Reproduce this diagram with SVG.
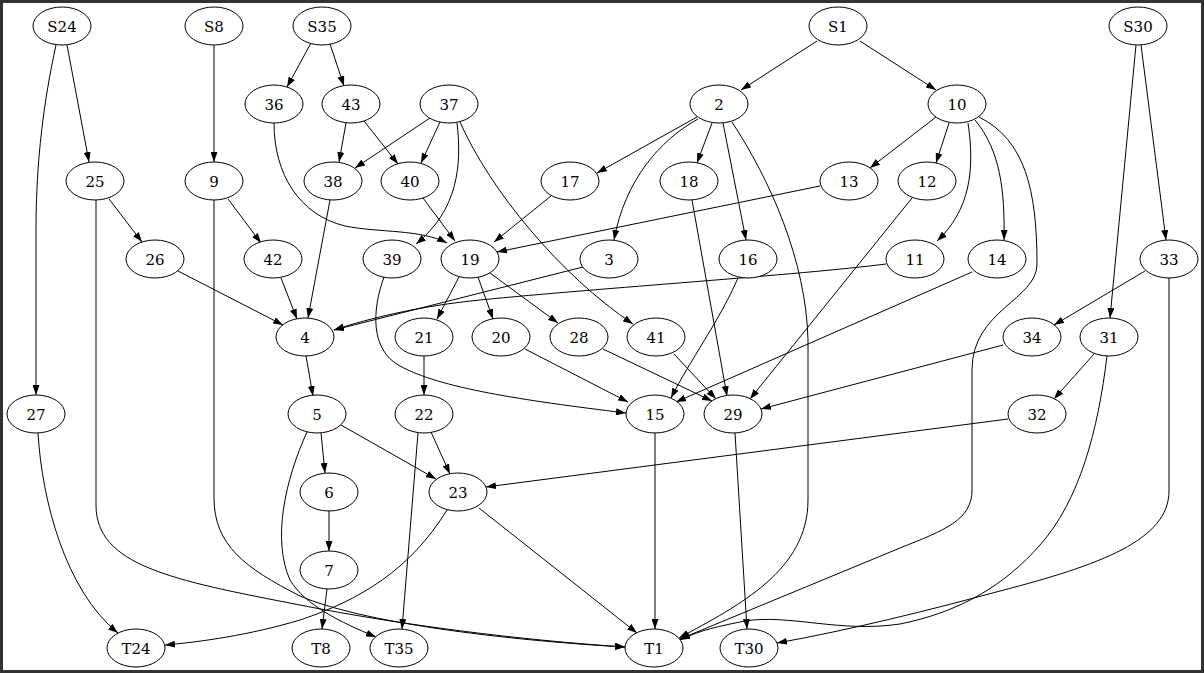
<svg xmlns="http://www.w3.org/2000/svg" width="1204" height="673" viewBox="0 0 1204 673">
<style>
.n ellipse{fill:#fff;stroke:#000;stroke-width:1}
.n text{font-family:"DejaVu Serif","Liberation Serif",serif;font-size:15px;text-anchor:middle;fill:#000}
#edges path{fill:none;stroke:#000;stroke-width:1;marker-end:url(#ah)}
</style>
<defs>
<marker id="ah" markerUnits="userSpaceOnUse" markerWidth="10" markerHeight="7" refX="10" refY="3.5" orient="auto">
<path d="M0,0 L10,3.5 L0,7 z" fill="#000"/>
</marker>
</defs>
<rect x="1.5" y="1.5" width="1201" height="670" fill="#fff" stroke="#333" stroke-width="3"/>
<g id="edges">
<path d="M67,45 L89,162"/>
<path d="M56,45 C44,100 36,160 36,230 L36,395"/>
<path d="M214,45 L214,162"/>
<path d="M311,43 L287,87"/>
<path d="M330,44 L344,86"/>
<path d="M817,41 L741,90"/>
<path d="M860,41 L936,90"/>
<path d="M1136,45 L1110,318"/>
<path d="M1141,45 L1166,240"/>
<path d="M274,123 C274,175 300,215 345,226 C380,233 420,229 447,243"/>
<path d="M346,123 L339,162"/>
<path d="M364,121 L398,164"/>
<path d="M430,118 L355,168"/>
<path d="M440,122 L421,163"/>
<path d="M457,123 C462,165 458,210 416,244"/>
<path d="M460,122 C490,190 560,275 633,324"/>
<path d="M697,117 L597,173"/>
<path d="M712,123 L697,163"/>
<path d="M698,119 C660,140 625,180 614,240"/>
<path d="M723,123 L746,240"/>
<path d="M732,122 C770,180 806,260 808,340 L808,500 C808,570 740,605 679,638"/>
<path d="M936,117 L870,168"/>
<path d="M949,123 L936,163"/>
<path d="M968,123 C975,170 970,210 937,241"/>
<path d="M975,120 C1000,150 1005,190 1004,240"/>
<path d="M979,117 C1025,140 1037,190 1037,264 C1037,300 972,310 972,370 L972,490 C972,520 945,530 900,548 L680,639"/>
<path d="M109,199 L142,242"/>
<path d="M96,200 L96,505 C96,565 170,580 300,605 C400,625 520,640 625,647"/>
<path d="M214,200 L214,498 C214,545 245,568 300,596 C360,622 500,640 625,647"/>
<path d="M228,199 L261,243"/>
<path d="M178,271 L283,325"/>
<path d="M281,278 L297,319"/>
<path d="M330,200 L308,318"/>
<path d="M423,198 L455,241"/>
<path d="M551,196 L494,242"/>
<path d="M820,186 L497,252"/>
<path d="M384,277 C372,310 370,350 400,366 C440,388 520,400 626,413"/>
<path d="M459,277 L437,319"/>
<path d="M478,277 L493,319"/>
<path d="M490,273 L558,323"/>
<path d="M583,267 L334,330"/>
<path d="M886,264 C800,275 600,288 480,300 C420,306 370,318 334,330"/>
<path d="M306,356 L313,396"/>
<path d="M424,356 L424,395"/>
<path d="M525,349 L628,402"/>
<path d="M603,349 L712,401"/>
<path d="M674,354 L716,399"/>
<path d="M738,278 C720,320 690,360 671,398"/>
<path d="M972,272 L676,402"/>
<path d="M912,198 L750,399"/>
<path d="M692,200 L727,396"/>
<path d="M1003,345 L761,409"/>
<path d="M1145,271 L1054,325"/>
<path d="M1094,354 L1054,399"/>
<path d="M1008,419 L486,487"/>
<path d="M1169,278 L1169,491 C1169,540 1100,565 1000,591 C930,610 850,630 777,643"/>
<path d="M1107,356 C1098,430 1080,500 1040,545 C1005,585 960,612 900,624 C840,633 790,614 745,621 C720,626 700,630 680,640"/>
<path d="M321,433 L325,473"/>
<path d="M341,425 L436,479"/>
<path d="M307,432 C285,480 272,540 290,580 C305,605 340,622 376,637"/>
<path d="M431,432 L450,474"/>
<path d="M418,433 L402,629"/>
<path d="M447,510 C410,570 360,600 300,620 C250,635 200,642 165,645"/>
<path d="M479,508 L637,633"/>
<path d="M329,511 L329,551"/>
<path d="M327,589 L322,629"/>
<path d="M655,433 L655,629"/>
<path d="M735,433 L747,629"/>
<path d="M38,433 C42,500 65,590 118,633"/>
</g>
<g id="S24" class="n"><ellipse cx="62" cy="26" rx="29" ry="19"/><text x="62" y="31.5">S24</text></g>
<g id="S8" class="n"><ellipse cx="214" cy="26" rx="29" ry="19"/><text x="214" y="31.5">S8</text></g>
<g id="S35" class="n"><ellipse cx="322" cy="26" rx="29" ry="19"/><text x="322" y="31.5">S35</text></g>
<g id="S1" class="n"><ellipse cx="838" cy="26" rx="29" ry="19"/><text x="838" y="31.5">S1</text></g>
<g id="S30" class="n"><ellipse cx="1138" cy="26" rx="29" ry="19"/><text x="1138" y="31.5">S30</text></g>
<g id="n36" class="n"><ellipse cx="274" cy="104" rx="29" ry="19"/><text x="274" y="109.5">36</text></g>
<g id="n43" class="n"><ellipse cx="351" cy="104" rx="29" ry="19"/><text x="351" y="109.5">43</text></g>
<g id="n37" class="n"><ellipse cx="449" cy="104" rx="29" ry="19"/><text x="449" y="109.5">37</text></g>
<g id="n2" class="n"><ellipse cx="719" cy="104" rx="29" ry="19"/><text x="719" y="109.5">2</text></g>
<g id="n10" class="n"><ellipse cx="957" cy="104" rx="29" ry="19"/><text x="957" y="109.5">10</text></g>
<g id="n25" class="n"><ellipse cx="95" cy="181" rx="29" ry="19"/><text x="95" y="186.5">25</text></g>
<g id="n9" class="n"><ellipse cx="214" cy="181" rx="29" ry="19"/><text x="214" y="186.5">9</text></g>
<g id="n38" class="n"><ellipse cx="333" cy="181" rx="29" ry="19"/><text x="333" y="186.5">38</text></g>
<g id="n40" class="n"><ellipse cx="410" cy="181" rx="29" ry="19"/><text x="410" y="186.5">40</text></g>
<g id="n17" class="n"><ellipse cx="570" cy="181" rx="29" ry="19"/><text x="570" y="186.5">17</text></g>
<g id="n18" class="n"><ellipse cx="689" cy="181" rx="29" ry="19"/><text x="689" y="186.5">18</text></g>
<g id="n13" class="n"><ellipse cx="849" cy="181" rx="29" ry="19"/><text x="849" y="186.5">13</text></g>
<g id="n12" class="n"><ellipse cx="927" cy="181" rx="29" ry="19"/><text x="927" y="186.5">12</text></g>
<g id="n26" class="n"><ellipse cx="155" cy="259" rx="29" ry="19"/><text x="155" y="264.5">26</text></g>
<g id="n42" class="n"><ellipse cx="273" cy="259" rx="29" ry="19"/><text x="273" y="264.5">42</text></g>
<g id="n39" class="n"><ellipse cx="392" cy="259" rx="29" ry="19"/><text x="392" y="264.5">39</text></g>
<g id="n19" class="n"><ellipse cx="470" cy="259" rx="29" ry="19"/><text x="470" y="264.5">19</text></g>
<g id="n3" class="n"><ellipse cx="609" cy="259" rx="29" ry="19"/><text x="609" y="264.5">3</text></g>
<g id="n16" class="n"><ellipse cx="748" cy="259" rx="29" ry="19"/><text x="748" y="264.5">16</text></g>
<g id="n11" class="n"><ellipse cx="915" cy="259" rx="29" ry="19"/><text x="915" y="264.5">11</text></g>
<g id="n14" class="n"><ellipse cx="997" cy="259" rx="29" ry="19"/><text x="997" y="264.5">14</text></g>
<g id="n33" class="n"><ellipse cx="1169" cy="259" rx="29" ry="19"/><text x="1169" y="264.5">33</text></g>
<g id="n4" class="n"><ellipse cx="305" cy="337" rx="29" ry="19"/><text x="305" y="342.5">4</text></g>
<g id="n21" class="n"><ellipse cx="424" cy="337" rx="29" ry="19"/><text x="424" y="342.5">21</text></g>
<g id="n20" class="n"><ellipse cx="501" cy="337" rx="29" ry="19"/><text x="501" y="342.5">20</text></g>
<g id="n28" class="n"><ellipse cx="579" cy="337" rx="29" ry="19"/><text x="579" y="342.5">28</text></g>
<g id="n41" class="n"><ellipse cx="656" cy="337" rx="29" ry="19"/><text x="656" y="342.5">41</text></g>
<g id="n34" class="n"><ellipse cx="1032" cy="337" rx="29" ry="19"/><text x="1032" y="342.5">34</text></g>
<g id="n31" class="n"><ellipse cx="1109" cy="337" rx="29" ry="19"/><text x="1109" y="342.5">31</text></g>
<g id="n27" class="n"><ellipse cx="36" cy="414" rx="29" ry="19"/><text x="36" y="419.5">27</text></g>
<g id="n5" class="n"><ellipse cx="317" cy="414" rx="29" ry="19"/><text x="317" y="419.5">5</text></g>
<g id="n22" class="n"><ellipse cx="424" cy="414" rx="29" ry="19"/><text x="424" y="419.5">22</text></g>
<g id="n15" class="n"><ellipse cx="655" cy="414" rx="29" ry="19"/><text x="655" y="419.5">15</text></g>
<g id="n29" class="n"><ellipse cx="733" cy="414" rx="29" ry="19"/><text x="733" y="419.5">29</text></g>
<g id="n32" class="n"><ellipse cx="1037" cy="414" rx="29" ry="19"/><text x="1037" y="419.5">32</text></g>
<g id="n6" class="n"><ellipse cx="329" cy="492" rx="29" ry="19"/><text x="329" y="497.5">6</text></g>
<g id="n23" class="n"><ellipse cx="458" cy="492" rx="29" ry="19"/><text x="458" y="497.5">23</text></g>
<g id="n7" class="n"><ellipse cx="329" cy="570" rx="29" ry="19"/><text x="329" y="575.5">7</text></g>
<g id="T24" class="n"><ellipse cx="136" cy="648" rx="29" ry="19"/><text x="136" y="653.5">T24</text></g>
<g id="T8" class="n"><ellipse cx="321" cy="648" rx="29" ry="19"/><text x="321" y="653.5">T8</text></g>
<g id="T35" class="n"><ellipse cx="399" cy="648" rx="29" ry="19"/><text x="399" y="653.5">T35</text></g>
<g id="T1" class="n"><ellipse cx="654" cy="648" rx="29" ry="19"/><text x="654" y="653.5">T1</text></g>
<g id="T30" class="n"><ellipse cx="749" cy="648" rx="29" ry="19"/><text x="749" y="653.5">T30</text></g>
</svg>
